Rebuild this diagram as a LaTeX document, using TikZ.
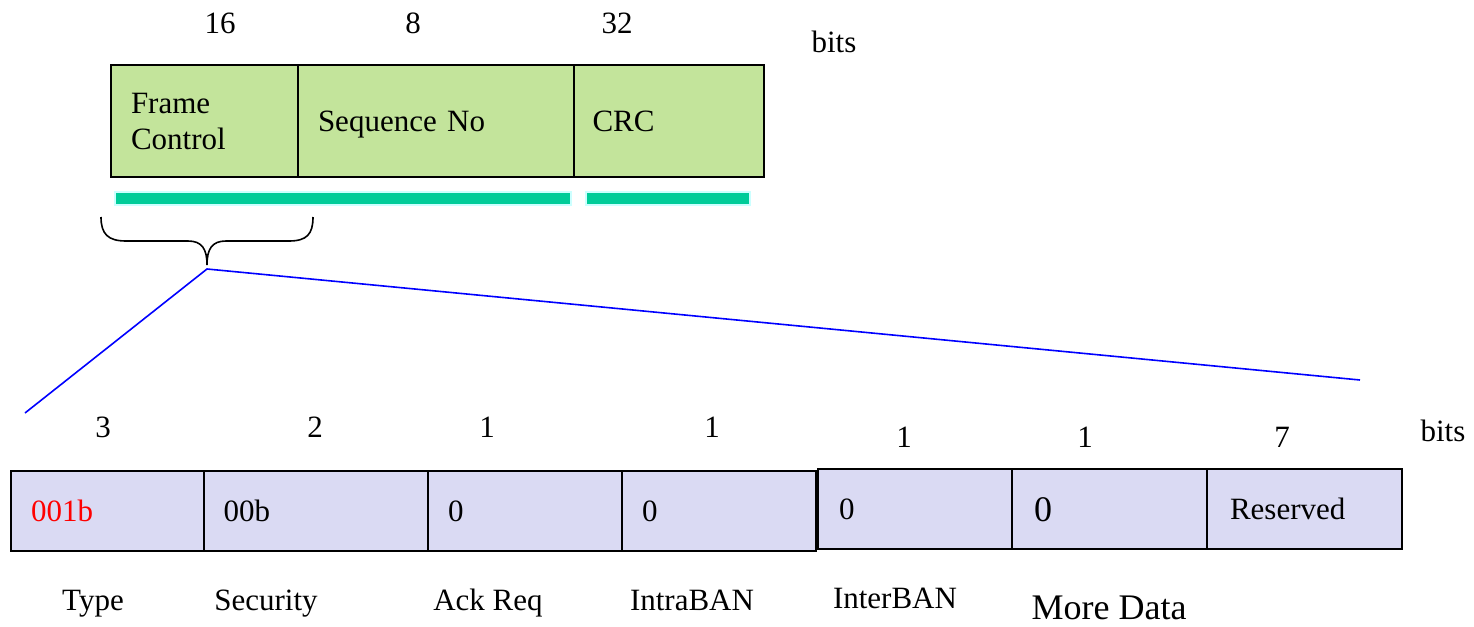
\documentclass[tikz,border=0pt]{standalone}
\usepackage{fontspec}
\setmainfont{Liberation Serif}
\definecolor{topgreen}{RGB}{195,228,155}
\definecolor{cellpurple}{RGB}{218,218,243}
\definecolor{barteal}{RGB}{0,204,153}
\definecolor{barrim}{RGB}{204,255,255}
\begin{document}
\begin{tikzpicture}[x=1pt,y=-1pt,
  txt/.style={font=\fontsize{31}{36}\selectfont, inner sep=0pt, text height=21pt, text depth=0pt},
  bigtxt/.style={font=\fontsize{36}{40}\selectfont, inner sep=0pt, text height=24pt, text depth=0pt},
  topcell/.style={draw=black, line width=2pt, fill=topgreen, anchor=north west,
     minimum height=112pt, inner xsep=20pt, align=left, font=\fontsize{31}{36}\selectfont,
     text height=21pt, text depth=0pt},
  botcell/.style={draw=black, line width=2pt, fill=cellpurple, anchor=north west,
     minimum height=80pt, inner xsep=20pt, align=left, font=\fontsize{31}{36}\selectfont,
     text height=21pt, text depth=0pt},
  tealbar/.style={draw=barrim, line width=2pt, fill=barteal},
  zoomline/.style={draw=blue, line width=1.6pt},
  bracestyle/.style={draw=black, line width=1.6pt}
]
\useasboundingbox[fill=white] (0,0) rectangle (1474,626);

% top frame
\node[topcell, minimum width=187pt, text width=147pt, text depth=36pt] (fc) at (110,64) {Frame\\Control};
\node[topcell, minimum width=276pt, text width=236pt] (sn) at (297,64) {Sequence No};
\node[topcell, minimum width=190pt, text width=153pt, inner xsep=18pt] (crc) at (573,64) {CRC};

\node[txt] (n16) at (220,23) {16};
\node[txt] (n8) at (413,23) {8};
\node[txt] (n32) at (617,23) {32};
\node[txt] (bitsA) at (834,42) {bits};

% teal bars
\path[tealbar] (115,192) rectangle (571,205);
\path[tealbar] (586,192) rectangle (750,205);

% brace
\coordinate (btip) at (207,265);
\draw[bracestyle] (101,217) .. controls (101,234) and (108,241) .. (126,241)
   -- (188,241) .. controls (202,241) and (207,249) .. (btip)
   .. controls (207,249) and (212,241) .. (226,241)
   -- (289,241) .. controls (307,241) and (313,234) .. (313,217);

% zoom lines
\coordinate (zapex) at (207,269);
\coordinate (zleft) at (25,413);
\coordinate (zright) at (1360,380);
\draw[zoomline] (zleft) -- (zapex) -- (zright);

% bottom numbers
\node[txt] (b3) at (103,427) {3};
\node[txt] (b2) at (315,427) {2};
\node[txt] (b1a) at (487,427) {1};
\node[txt] (b1b) at (712,427) {1};
\node[txt] (b1c) at (904,437) {1};
\node[txt] (b1d) at (1085,437) {1};
\node[txt] (b7) at (1282,437) {7};
\node[txt] (bitsB) at (1443,431) {bits};

% bottom cells
\node[botcell, minimum width=193pt, text width=153pt] (ty) at (10,470) {\textcolor{red}{001b}};
\node[botcell, minimum width=224pt, text width=185pt, inner xsep=19pt] (se) at (203,470) {00b};
\node[botcell, minimum width=194pt, text width=154pt] (ak) at (427,470) {0};
\node[botcell, minimum width=194pt, text width=154pt] (ia) at (621,470) {0};
\node[botcell, minimum width=194pt, text width=152pt, inner xsep=21pt] (ie) at (817,468) {0};
\node[botcell, minimum width=195pt, text width=151pt, inner xsep=22pt, font=\fontsize{36}{40}\selectfont, text height=24pt] (md) at (1011,468) {0};
\node[botcell, minimum width=195pt, text width=149pt, inner xsep=23pt] (rs) at (1206,468) {Reserved};

% bottom labels
\node[txt] (lty) at (93,600) {Type};
\node[txt] (lse) at (266,600) {Security};
\node[txt] (lak) at (488,600) {Ack Req};
\node[txt] (lia) at (692,600) {IntraBAN};
\node[txt] (lie) at (895,598) {InterBAN};
\node[bigtxt] (lmd) at (1109,607) {More Data};
\end{tikzpicture}
\end{document}
